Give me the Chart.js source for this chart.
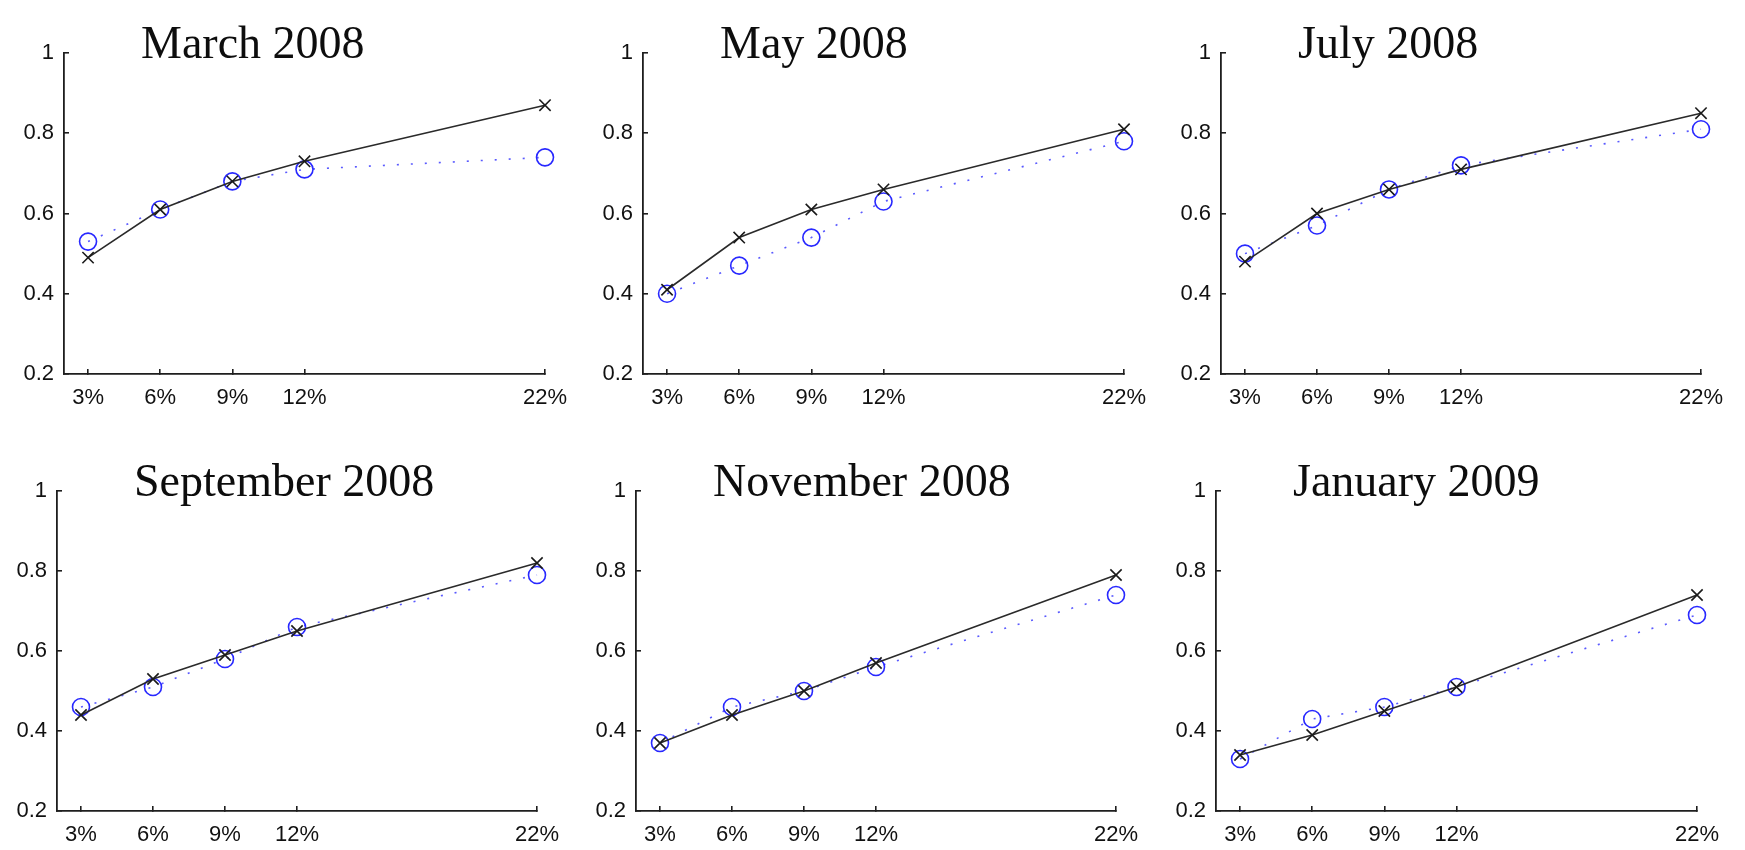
<!DOCTYPE html>
<html>
<head>
<meta charset="utf-8">
<script src="https://cdn.jsdelivr.net/npm/chart.js@4/dist/chart.umd.min.js"></script>
<style>
  html, body { margin: 0; padding: 0; background: #fff; width: 1745px; height: 850px; overflow: hidden; }
  canvas { position: absolute; }
</style>
</head>
<body>
<script>
// Shared axes
const xTickValues = [3, 6, 9, 12, 22];
const xTickLabels = ['3%', '6%', '9%', '12%', '22%'];
const yTickValues = [0.2, 0.4, 0.6, 0.8, 1];
const yTickLabels = ['0.2', '0.4', '0.6', '0.8', '1'];

const panelTitles = ['March 2008', 'May 2008', 'July 2008', 'September 2008', 'November 2008', 'January 2009'];

// Solid black series (x markers), one row per panel
const crossSeries = [
  [0.49, 0.61, 0.68, 0.73, 0.87],
  [0.41, 0.54, 0.61, 0.66, 0.81],
  [0.48, 0.60, 0.66, 0.71, 0.85],
  [0.44, 0.53, 0.59, 0.65, 0.82],
  [0.37, 0.44, 0.50, 0.57, 0.79],
  [0.34, 0.39, 0.45, 0.51, 0.74]
];

// Dotted blue series (circle markers), one row per panel
const circleSeries = [
  [0.53, 0.61, 0.68, 0.71, 0.74],
  [0.40, 0.47, 0.54, 0.63, 0.78],
  [0.50, 0.57, 0.66, 0.72, 0.81],
  [0.46, 0.51, 0.58, 0.66, 0.79],
  [0.37, 0.46, 0.50, 0.56, 0.74],
  [0.33, 0.43, 0.46, 0.51, 0.69]
];

// Plot box of each panel on the page: left, top, width, height
const panelBoxes = [
  [64, 53, 481, 321],
  [643, 53, 481, 321],
  [1221, 53, 480, 321],
  [57, 491, 480, 320],
  [636, 491, 480, 320],
  [1216, 491, 481, 320]
];

const AXIS_W = 57, PAD_TOP = 55, PAD_RIGHT = 45, AXIS_H = 50;
const tickFont = { family: '"Liberation Sans", Arial, sans-serif', size: 22 };
const axisColor = '#1e1e1e';

const panelTitlePlugin = {
  id: 'panelTitle',
  afterDraw(chart, args, opts) {
    const { ctx, chartArea } = chart;
    ctx.save();
    ctx.font = '46px "Liberation Serif", "Times New Roman", serif';
    ctx.fillStyle = '#0d0d0d';
    ctx.textAlign = 'left';
    ctx.textBaseline = 'alphabetic';
    ctx.fillText(opts.text, chartArea.left + 77, chartArea.top + 5);
    ctx.restore();
  }
};

const toPoints = (ys) => ys.map((y, i) => ({ x: xTickValues[i], y }));

panelBoxes.forEach((box, p) => {
  const [L, T, W, H] = box;
  const cw = AXIS_W + W + PAD_RIGHT;
  const ch = PAD_TOP + H + AXIS_H;
  const canvas = document.createElement('canvas');
  canvas.width = cw; canvas.height = ch;
  canvas.style.width = cw + 'px'; canvas.style.height = ch + 'px';
  canvas.style.left = (L - AXIS_W) + 'px';
  canvas.style.top = (T - PAD_TOP) + 'px';
  document.body.appendChild(canvas);

  new Chart(canvas, {
    type: 'line',
    data: {
      datasets: [
        {
          data: toPoints(crossSeries[p]),
          borderColor: '#2a2a2a',
          borderWidth: 1.6,
          pointStyle: 'crossRot',
          pointRadius: 8,
          pointHoverRadius: 8,
          pointBorderColor: '#1a1a1a',
          pointBorderWidth: 1.6,
          pointBackgroundColor: 'transparent',
          clip: false,
          order: 0
        },
        {
          data: toPoints(circleSeries[p]),
          borderColor: 'rgba(60,60,255,0.85)',
          borderWidth: 1.6,
          borderDash: [2, 12],
          pointStyle: 'circle',
          pointRadius: 8.5,
          pointHoverRadius: 8.5,
          pointBorderColor: 'rgb(40,40,255)',
          pointBorderWidth: 1.6,
          pointBackgroundColor: 'transparent',
          clip: false,
          order: 1
        }
      ]
    },
    options: {
      responsive: false,
      animation: false,
      devicePixelRatio: 1,
      layout: { padding: { top: PAD_TOP, right: PAD_RIGHT, left: 0, bottom: 0 } },
      plugins: {
        legend: { display: false },
        tooltip: { enabled: false },
        panelTitle: { text: panelTitles[p] }
      },
      scales: {
        x: {
          type: 'linear',
          min: 2,
          max: 22,
          afterBuildTicks: (s) => { s.ticks = xTickValues.map(v => ({ value: v })); },
          afterFit: (s) => { s.height = AXIS_H; },
          border: { display: true, color: axisColor, width: 1.8 },
          grid: { display: true, drawOnChartArea: false, drawTicks: true, tickLength: -5, color: axisColor, lineWidth: 1.6 },
          ticks: {
            padding: 16,
            maxRotation: 0,
            autoSkip: false,
            color: '#111',
            font: tickFont,
            callback: (v) => xTickLabels[xTickValues.indexOf(v)]
          }
        },
        y: {
          type: 'linear',
          min: 0.2,
          max: 1,
          afterBuildTicks: (s) => { s.ticks = yTickValues.map(v => ({ value: v })); },
          afterFit: (s) => { s.width = AXIS_W; },
          border: { display: true, color: axisColor, width: 1.8 },
          grid: { display: true, drawOnChartArea: false, drawTicks: true, tickLength: -5, color: axisColor, lineWidth: 1.6 },
          ticks: {
            padding: 15,
            autoSkip: false,
            color: '#111',
            font: tickFont,
            callback: (v) => yTickLabels[yTickValues.indexOf(v)]
          }
        }
      }
    },
    plugins: [panelTitlePlugin]
  });
});
</script>
</body>
</html>
